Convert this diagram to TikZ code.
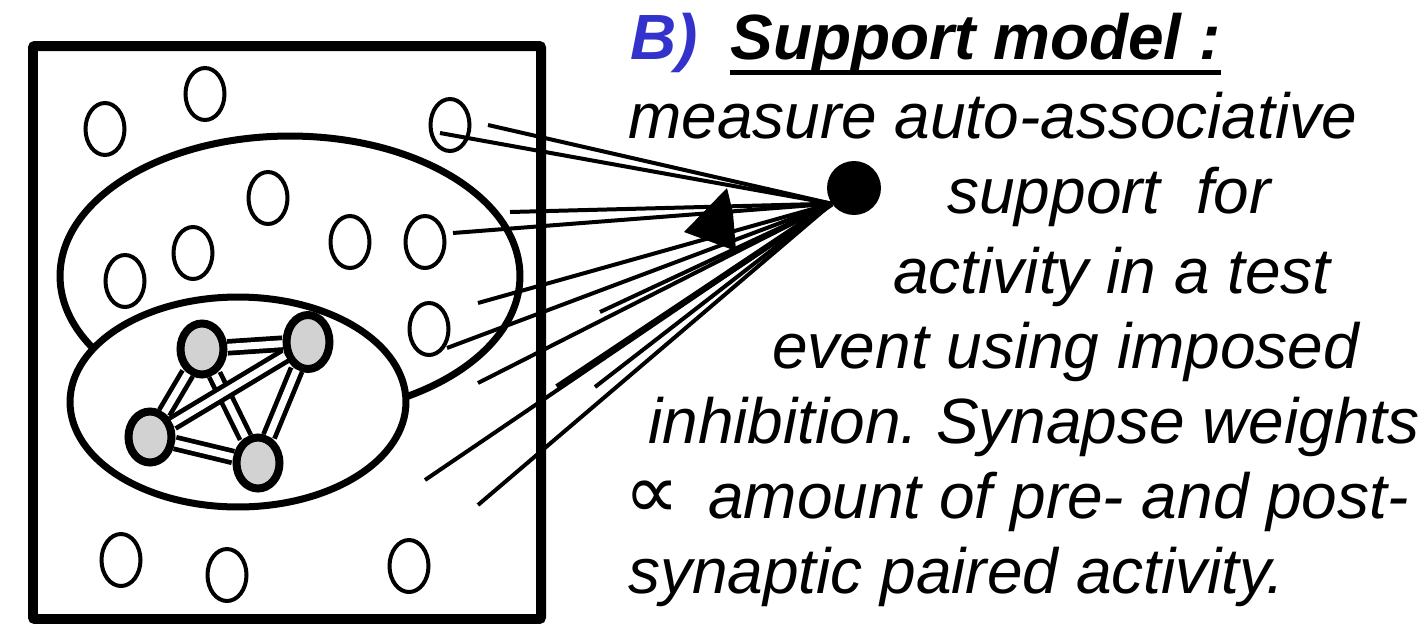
\documentclass[tikz,border=0pt]{standalone}
\usepackage{fontspec}
\setmainfont{Liberation Sans}
\newfontfamily\symb{DejaVu Sans}
\usetikzlibrary{shapes.geometric}
\definecolor{bblue}{RGB}{51,51,204}
\frenchspacing
\begin{document}
\begin{tikzpicture}[x=0.02cm,y=-0.02cm,
  cell/.style={draw, ellipse, line width=0.08cm, inner sep=0, minimum width=0.78cm, minimum height=1.04cm},
  core/.style={draw, ellipse, line width=0.16cm, fill=gray!35, inner sep=0, minimum width=0.86cm, minimum height=1.02cm},
  bond/.style={draw, line width=0.095cm, double=white, double distance=0.14cm},
  fan/.style={draw, line width=0.08cm},
  region/.style={draw, ellipse, line width=0.14cm, inner sep=0},
  body/.style={anchor=base west, inner sep=0, font=\fontsize{36.4}{40}\selectfont\itshape},
  head/.style={anchor=base west, inner sep=0, font=\fontsize{36.4}{40}\selectfont\bfseries\itshape}
]
\useasboundingbox (0,0) rectangle (1428,623);
% regions
\node[region, minimum width=9.2cm, minimum height=5.6cm] (big) at (290,276) {};
\node[region, fill=white, minimum width=6.72cm, minimum height=4.2cm] (small) at (238,402) {};
% plain cells
\node[cell] (c1) at (105,129) {};
\node[cell] (c2) at (205,94) {};
\node[cell] (c3) at (450,125) {};
\node[cell] (c4) at (268,198) {};
\node[cell] (c5) at (193,253) {};
\node[cell] (c6) at (125,281) {};
\node[cell] (c7) at (350,242) {};
\node[cell] (c8) at (425,242) {};
\node[cell] (c9) at (429,329) {};
\node[cell] (c10) at (121,560) {};
\node[cell] (c11) at (227,575) {};
\node[cell] (c12) at (409,566) {};
% assembly
\node[core] (A) at (202,349) {};
\node[core, minimum height=1.08cm] (B) at (308,342) {};
\node[core] (C) at (150,437) {};
\node[core] (D) at (258,463) {};
\draw[bond] (A) -- (B);
\draw[bond] (A) -- (C);
\draw[bond] (A) -- (D);
\draw[bond] (B) -- (C);
\draw[bond] (B) -- (D);
\draw[bond] (C) -- (D);
% frame
\draw[line width=0.2cm, rounded corners=0.04cm] (33,46) rectangle (541,619);
% support unit
\node[circle, fill=black, inner sep=0, minimum size=1.08cm] (dot) at (854,188) {};
\coordinate (f1) at (440,133);
\coordinate (f2) at (488,125);
\coordinate (f3) at (510,212);
\coordinate (f4) at (453,233);
\coordinate (f5) at (478,303);
\coordinate (f6) at (447,348);
\coordinate (f7) at (600,312);
\coordinate (f8) at (478,383);
\coordinate (f9) at (557,387);
\coordinate (f10) at (595,387);
\coordinate (f11) at (425,480);
\coordinate (f12) at (478,505);
\foreach \f in {f1,f2,f3,f4,f5,f6,f7,f8,f10,f11,f12}{\draw[fan] (\f) -- (dot.215);}
\draw[fan, line width=0.12cm] (f9) -- (dot.215);
\fill (727,188) -- (684,232) -- (736,251) -- (733,213) -- cycle;
% text
\node[head, text=bblue] (lbl) at (630,59) {B)};
\node[head] (title) at (730,59) {Support model :};
\draw[line width=0.1cm] ([yshift=-0.26cm]title.base west) -- ([yshift=-0.26cm]title.base east);
\node[body] (t1) at (628,138) {measure auto-associative};
\node[body] (t2) at (947,213) {support\ \ for};
\node[body] (t3) at (893,293) {activity in a test};
\node[body] (t4) at (772,368) {event using imposed};
\node[body] (t5) at (648,443) {inhibition. Synapse weights};
\node[anchor=base west, inner sep=0, font=\symb\fontsize{44}{48}\selectfont] (t6a) at (624,518) {∝};
\node[body] (t6) at (708,518) {amount of pre- and post-};
\node[body] (t7) at (628,593) {synaptic paired activity.};
\end{tikzpicture}
\end{document}
